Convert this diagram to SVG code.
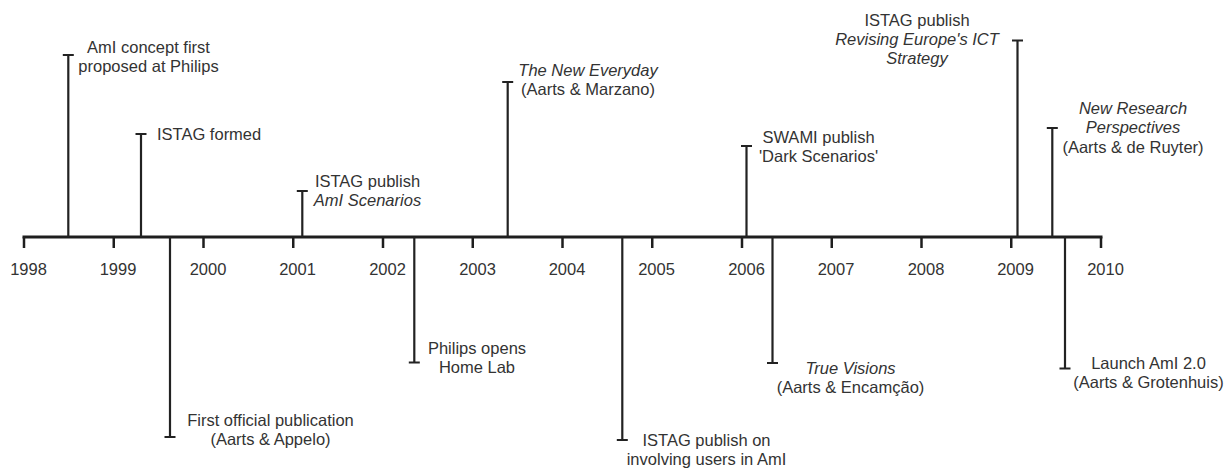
<svg xmlns="http://www.w3.org/2000/svg" width="1227" height="468" viewBox="0 0 1227 468">
<style>
  .axis{stroke:#1e1e1e;stroke-width:3;fill:none;stroke-linecap:square}
  .tick{stroke:#1e1e1e;stroke-width:2.5;fill:none}
  .ev{stroke:#222;stroke-width:2.2;fill:none}
  text{font-family:"Liberation Sans",Arial,sans-serif;font-size:16.5px;fill:#333}
  .yr{text-anchor:middle}
  .m{text-anchor:middle}
  .i{font-style:italic}
</style>
<rect width="1227" height="468" fill="#fff"/>
<g id="axis">
  <line class="axis" x1="24" y1="237" x2="1101" y2="237"/>
  <g class="tick">
    <line x1="24" y1="237" x2="24" y2="248"/>
    <line x1="113.75" y1="237" x2="113.75" y2="248"/>
    <line x1="203.5" y1="237" x2="203.5" y2="248"/>
    <line x1="293.25" y1="237" x2="293.25" y2="248"/>
    <line x1="383" y1="237" x2="383" y2="248"/>
    <line x1="472.75" y1="237" x2="472.75" y2="248"/>
    <line x1="562.5" y1="237" x2="562.5" y2="248"/>
    <line x1="652.25" y1="237" x2="652.25" y2="248"/>
    <line x1="742" y1="237" x2="742" y2="248"/>
    <line x1="831.75" y1="237" x2="831.75" y2="248"/>
    <line x1="921.5" y1="237" x2="921.5" y2="248"/>
    <line x1="1011.25" y1="237" x2="1011.25" y2="248"/>
    <line x1="1101" y1="237" x2="1101" y2="248"/>
  </g>
  <text class="yr" x="28.5" y="275">1998</text>
  <text class="yr" x="118" y="275">1999</text>
  <text class="yr" x="208" y="275">2000</text>
  <text class="yr" x="297.5" y="275">2001</text>
  <text class="yr" x="387.5" y="275">2002</text>
  <text class="yr" x="477.5" y="275">2003</text>
  <text class="yr" x="567" y="275">2004</text>
  <text class="yr" x="656.5" y="275">2005</text>
  <text class="yr" x="746.5" y="275">2006</text>
  <text class="yr" x="836" y="275">2007</text>
  <text class="yr" x="926" y="275">2008</text>
  <text class="yr" x="1015.5" y="275">2009</text>
  <text class="yr" x="1105.5" y="275">2010</text>
</g>
<g id="connectors">
  <path class="ev" d="M68.3 237V55M62.8 55H73.8"/>
  <path class="ev" d="M141 237V134M135.5 134H146.5"/>
  <path class="ev" d="M302.3 237V191M296.8 191H307.8"/>
  <path class="ev" d="M507.7 237V82M502.2 82H513.2"/>
  <path class="ev" d="M746.5 237V146M741 146H752"/>
  <path class="ev" d="M1017.5 237V40.5M1012 40.5H1023"/>
  <path class="ev" d="M1052.3 237V128M1046.8 128H1057.8"/>
  <path class="ev" d="M170 237V437M164.5 437H175.5"/>
  <path class="ev" d="M414.3 237V362.5M408.8 362.5H419.8"/>
  <path class="ev" d="M622.3 237V440M616.8 440H627.8"/>
  <path class="ev" d="M772.5 237V363M767 363H778"/>
  <path class="ev" d="M1065 237V368.5M1059.5 368.5H1070.5"/>
</g>
<g id="ev-ami-concept">
  <text class="m" x="148.5" y="52.5">AmI concept first</text>
  <text class="m" x="148.5" y="71.5">proposed at Philips</text>
</g>
<g id="ev-istag-formed">
  <text x="157" y="139.5">ISTAG formed</text>
</g>
<g id="ev-ami-scenarios">
  <text class="m" x="367.5" y="187">ISTAG publish</text>
  <text class="m i" x="367.5" y="206">AmI Scenarios</text>
</g>
<g id="ev-new-everyday">
  <text class="m i" x="588" y="76">The New Everyday</text>
  <text class="m" x="588" y="95">(Aarts &amp; Marzano)</text>
</g>
<g id="ev-swami">
  <text class="m" x="818.5" y="143">SWAMI publish</text>
  <text class="m" x="818.5" y="162">'Dark Scenarios'</text>
</g>
<g id="ev-revising">
  <text class="m" x="917" y="26">ISTAG publish</text>
  <text class="m i" x="917" y="45">Revising Europe's ICT</text>
  <text class="m i" x="917" y="64">Strategy</text>
</g>
<g id="ev-new-research">
  <text class="m i" x="1133" y="113.5">New Research</text>
  <text class="m i" x="1133" y="133">Perspectives</text>
  <text class="m" x="1133" y="152.5">(Aarts &amp; de Ruyter)</text>
</g>
<g id="ev-first-publication">
  <text class="m" x="270.5" y="426">First official publication</text>
  <text class="m" x="270.5" y="445">(Aarts &amp; Appelo)</text>
</g>
<g id="ev-home-lab">
  <text class="m" x="477" y="354">Philips opens</text>
  <text class="m" x="477" y="373">Home Lab</text>
</g>
<g id="ev-involving-users">
  <text class="m" x="706.5" y="446">ISTAG publish on</text>
  <text class="m" x="706.5" y="465">involving users in AmI</text>
</g>
<g id="ev-true-visions">
  <text class="m i" x="850.5" y="373.5">True Visions</text>
  <text class="m" x="850.5" y="393">(Aarts &amp; Encamção)</text>
</g>
<g id="ev-launch">
  <text class="m" x="1148.5" y="368.5">Launch AmI 2.0</text>
  <text class="m" x="1148.5" y="388">(Aarts &amp; Grotenhuis)</text>
</g>
</svg>
